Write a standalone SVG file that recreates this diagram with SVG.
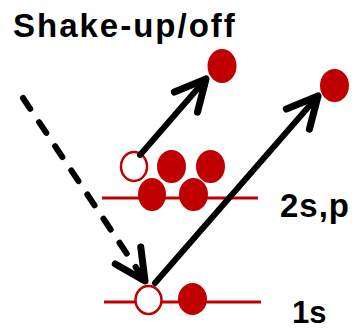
<svg xmlns="http://www.w3.org/2000/svg" width="357" height="329" viewBox="0 0 357 329">
<style>
.lbl{font-family:"Liberation Sans",Arial,sans-serif;font-weight:bold;fill:#000}
.lvl{stroke:#C00000;stroke-width:3;fill:none}
.e{fill:#C00000}
.h{fill:#fff;stroke:#C00000;stroke-width:2.5}
.arr{stroke:#000;stroke-width:6;fill:none;stroke-linecap:round;marker-end:url(#chev)}
</style>
<defs>
<marker id="chev" markerUnits="userSpaceOnUse" orient="auto" markerWidth="40" markerHeight="40" refX="0" refY="0" viewBox="-30 -16 34 32" overflow="visible">
<path d="M-26,-13 L0,0 L-26,13" fill="none" stroke="#000" stroke-width="6" stroke-linecap="round" stroke-linejoin="round"/>
</marker>
</defs>
<rect width="357" height="329" fill="#fff"/>
<text class="lbl" x="13" y="37" font-size="33" letter-spacing="2">Shake-up/off</text>
<g id="level-2sp">
<line class="lvl" x1="102" y1="198" x2="258" y2="198"/>
<text class="lbl" x="280" y="217" font-size="33" letter-spacing="1">2s,p</text>
</g>
<g id="level-1s">
<line class="lvl" x1="104" y1="302" x2="261" y2="302"/>
<text class="lbl" x="292" y="323" font-size="31">1s</text>
</g>
<g id="electrons-2sp">
<ellipse class="h" cx="134" cy="166.5" rx="13" ry="14.5"/>
<ellipse class="e" cx="171.5" cy="166.5" rx="14.5" ry="16.5"/>
<ellipse class="e" cx="210.5" cy="166.5" rx="14.5" ry="16.5"/>
<ellipse class="e" cx="152" cy="194.5" rx="14" ry="16.5"/>
<ellipse class="e" cx="193.5" cy="194.5" rx="14.5" ry="16.5"/>
</g>
<g id="electrons-1s">
<ellipse class="h" cx="148.5" cy="300" rx="13" ry="14"/>
<ellipse class="e" cx="192.5" cy="299" rx="14.5" ry="16"/>
</g>
<g id="ejected-1">
<ellipse class="e" cx="222" cy="66" rx="14.5" ry="17"/>
</g>
<g id="ejected-2">
<ellipse class="e" cx="334.5" cy="85.5" rx="14.5" ry="16.5"/>
</g>
<g id="connectors">
<line class="arr" x1="140" y1="155" x2="206" y2="79"/>
<line class="arr" x1="155" y1="283" x2="318" y2="96"/>
<line class="arr" x1="23" y1="98" x2="145" y2="281" stroke-dasharray="13 16" stroke-width="5.5"/>
</g>
</svg>
